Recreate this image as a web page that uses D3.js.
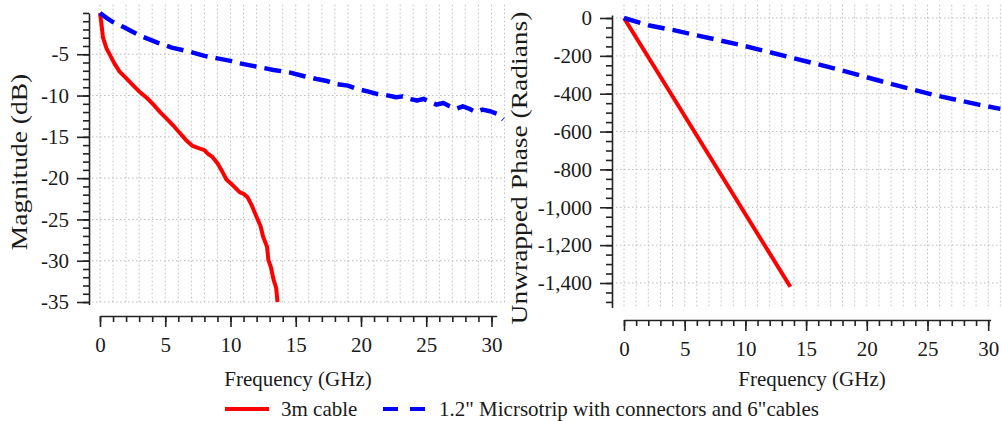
<!DOCTYPE html>
<html>
<head>
<meta charset="utf-8">
<script src="https://cdn.jsdelivr.net/npm/d3@7"></script>
<style>
    body { margin: 0; background: #fff; }
    svg text { font-family: "Liberation Serif", "Times New Roman", serif !important; fill: #1a1a1a; }
</style>
</head>
<body>
<svg id="chart" width="1002" height="421"></svg>
<script>
// values (frequency in GHz)
const magCableFreq = [0, 0.1, 0.23, 0.5, 0.77, 1.1, 1.5, 2.0, 2.5, 3.0, 3.6, 4.1, 4.6, 5.1, 5.6, 6.1, 6.6, 7.1, 7.6, 8.0, 8.3, 8.6, 9.0, 9.4, 9.7, 10.2, 10.7, 11.0, 11.3, 11.6, 12.0, 12.3, 12.5, 12.8, 12.9, 13.1, 13.3, 13.5, 13.6]
const magCableDb = [0, -1.2, -3.0, -4.3, -5.1, -6.1, -7.1, -7.9, -8.7, -9.5, -10.3, -11.1, -12.0, -12.8, -13.6, -14.5, -15.4, -16.1, -16.4, -16.6, -17.1, -17.4, -18.2, -19.3, -20.2, -20.9, -21.7, -21.9, -22.3, -23.2, -24.7, -25.8, -27.1, -28.3, -29.9, -30.8, -32.3, -33.3, -35.0]
const magStripFreq = [0, 0.5, 1.0, 1.8, 3.0, 4.4, 5.5, 6.9, 8.0, 9.0, 10.0, 10.7, 12.0, 13.3, 14.5, 15.5, 16.6, 17.3, 18.1, 19.0, 19.7, 20.5, 21.2, 21.8, 22.7, 23.2, 23.7, 24.3, 24.8, 25.3, 25.8, 26.3, 26.8, 27.3, 27.8, 28.3, 28.8, 29.3, 29.9, 30.4, 30.9]
const magStripDb = [0, -0.6, -1.1, -1.7, -2.7, -3.6, -4.2, -4.7, -5.2, -5.5, -5.8, -6.1, -6.5, -6.9, -7.2, -7.6, -8.0, -8.2, -8.6, -8.8, -9.2, -9.5, -9.8, -9.9, -10.2, -10.1, -10.4, -10.6, -10.4, -10.8, -11.1, -10.9, -11.3, -11.6, -11.3, -11.6, -12.0, -11.7, -11.9, -12.2, -12.9]
const phaseCableFreq = [0, 3.5, 7.0, 10.5, 13.7]
const phaseCableRad = [0, -362, -725, -1088, -1420]
const phaseStripFreq = [0, 2.1, 4.0, 7.3, 9.55, 13.9, 17.8, 21.7, 25.5, 29.3, 31.0]
const phaseStripRad = [0, -40, -63, -110, -142, -211, -274, -343, -406, -459, -480]

// tick labels
const freqTicks = [0, 5, 10, 15, 20, 25, 30]
const magTicks = [-35, -30, -25, -20, -15, -10, -5]
const phaseTicks = [-1400, -1200, -1000, -800, -600, -400, -200, 0]

const seriesNames = ["3m cable", "1.2\" Micrsotrip with connectors and 6\"cables"]
const seriesColors = ["#ff0000", "#0000ff"]

// hyphen minus and thousands separator like the original
const fmt = d3.formatLocale({decimal: ".", thousands: ",", grouping: [3], currency: ["", ""], minus: "-"}).format(",")
const serif = "'Liberation Serif', 'Times New Roman', serif"

const svg = d3.select("#chart")

const drawPanel = (p) => {
    const x = d3.scaleLinear().domain([0, 31]).range([p.left, p.left + 31 * p.pxPerGHz])
    const y = d3.scaleLinear().domain(p.yDomain).range(p.yRange)
    const g = svg.append("g")

    // dotted grid: every GHz vertically, major ticks horizontally
    g.append("g").selectAll("line")
        .data(d3.range(0, 32))
        .enter().append("line")
        .attr("x1", d => x(d)).attr("x2", d => x(d))
        .attr("y1", y(p.yDomain[1])).attr("y2", y(p.yDomain[0]))
        .attr("stroke", "#bdbdbd").attr("stroke-dasharray", "1.5,2.5")
    g.append("g").selectAll("line")
        .data(p.gridValues)
        .enter().append("line")
        .attr("x1", x(0) - 8).attr("x2", x(31))
        .attr("y1", d => y(d)).attr("y2", d => y(d))
        .attr("stroke", "#bdbdbd").attr("stroke-dasharray", "1.5,2.5")

    // axes, offset from the plot area
    const yAxisScale = y.copy().domain(p.yAxisExtent).range(p.yAxisExtent.map(y))
    const xAxisScale = x.copy().domain([0, p.xAxisMax]).range([x(0), x(p.xAxisMax)])

    const yMajor = g.append("g")
        .attr("transform", `translate(${p.yAxisX},0)`)
        .call(d3.axisLeft(yAxisScale).tickValues(p.yTicks).tickFormat(fmt)
            .tickSize(12).tickSizeOuter(0).tickPadding(8))
    g.append("g")
        .attr("transform", `translate(${p.yAxisX},0)`)
        .call(d3.axisLeft(yAxisScale).tickValues(p.yMinor).tickFormat("")
            .tickSize(6).tickSizeOuter(0))
        .select(".domain").remove()

    const xMajor = g.append("g")
        .attr("transform", `translate(0,${p.xAxisY})`)
        .call(d3.axisBottom(xAxisScale).tickValues(freqTicks)
            .tickSize(11).tickSizeOuter(0).tickPadding(10))
    g.append("g")
        .attr("transform", `translate(0,${p.xAxisY})`)
        .call(d3.axisBottom(xAxisScale).tickValues(d3.range(0, 31)).tickFormat("")
            .tickSize(6).tickSizeOuter(0))
        .select(".domain").remove()

    g.selectAll(".domain, .tick line").attr("stroke", "#222").attr("stroke-width", 1.6)
    ;[yMajor, xMajor].forEach(a => {
        a.attr("font-family", serif)
        a.selectAll("text").attr("font-size", 21).style("font-family", serif).attr("fill", "#1a1a1a")
    })

    // series
    const line = d3.line().x(d => x(d[0])).y(d => y(d[1]))
    g.append("path")
        .datum(d3.zip(p.cable[0], p.cable[1]))
        .attr("fill", "none").attr("stroke", seriesColors[0])
        .attr("stroke-width", 4).attr("stroke-linejoin", "round")
        .attr("d", line)
    g.append("path")
        .datum(d3.zip(p.strip[0], p.strip[1]))
        .attr("fill", "none").attr("stroke", seriesColors[1])
        .attr("stroke-width", 4.5).attr("stroke-dasharray", "17,8")
        .attr("stroke-linejoin", "round")
        .attr("d", line)

    // axis titles
    g.append("text")
        .attr("x", p.xTitleX).attr("y", 386)
        .attr("text-anchor", "middle").attr("font-size", 21)
        .style("font-family", serif)
        .text("Frequency (GHz)")
    g.append("text")
        .attr("transform", `translate(${p.yTitle[0]},${p.yTitle[1]}) scale(0.82,1) rotate(-90)`)
        .attr("text-anchor", "middle").attr("font-size", 27.5)
        .style("font-family", serif)
        .text(p.yLabel)
}

// magnitude panel
drawPanel({
    left: 100, pxPerGHz: 13.05,
    yDomain: [-35.3, 1], yRange: [304.5, 4.7],
    yAxisExtent: [-35.3, 0], yAxisX: 89, xAxisY: 316, xAxisMax: 30.4,
    yTicks: magTicks, yMinor: d3.range(-35, 1, 1),
    gridValues: magTicks,
    cable: [magCableFreq, magCableDb], strip: [magStripFreq, magStripDb],
    xTitleX: 298, yTitle: [27, 162], yLabel: "Magnitude (dB)"
})

// phase panel
drawPanel({
    left: 624, pxPerGHz: 12.14,
    yDomain: [-1530, 70], yRange: [307.6, 4.75],
    yAxisExtent: [-1530, 16], yAxisX: 612, xAxisY: 320, xAxisMax: 30.2,
    yTicks: phaseTicks, yMinor: d3.range(-1500, 1, 50),
    gridValues: phaseTicks,
    cable: [phaseCableFreq, phaseCableRad], strip: [phaseStripFreq, phaseStripRad],
    xTitleX: 812, yTitle: [527, 168], yLabel: "Unwrapped Phase (Radians)"
})

// legend along the bottom
const legend = svg.append("g").attr("transform", "translate(225,409)")
const item = legend.selectAll("g")
    .data(seriesNames)
    .enter().append("g")
    .attr("transform", (d, i) => `translate(${[0, 158][i]},0)`)
item.append("line")
    .attr("x1", 0).attr("x2", 44)
    .attr("stroke", (d, i) => seriesColors[i])
    .attr("stroke-width", 4)
    .attr("stroke-dasharray", (d, i) => i ? "15,12" : null)
item.append("text")
    .attr("x", 56).attr("y", 7)
    .attr("font-size", 21)
    .style("font-family", serif)
    .text(d => d)
</script>
</body>
</html>
